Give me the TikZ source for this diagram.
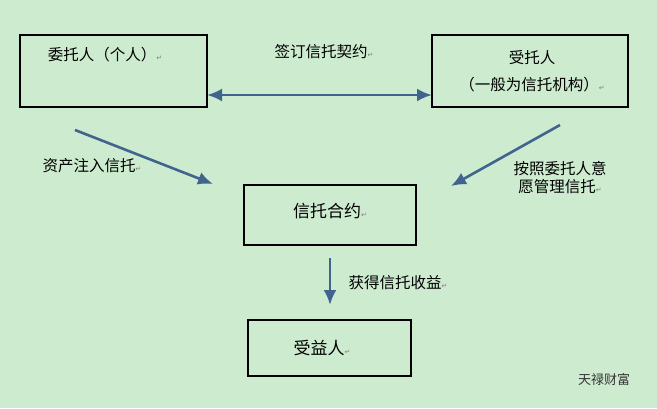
\documentclass[tikz,border=0pt]{standalone}
\usepackage{fontspec}
\usetikzlibrary{arrows.meta}
\setmainfont{Noto Sans CJK SC}
\newfontfamily\symfont{DejaVu Sans}
\newcommand{\ret}{{\symfont\scriptsize\color{gray}↵}}
\definecolor{bgreen}{HTML}{CDEBCF}
\definecolor{arrowblue}{HTML}{41648F}
\tikzset{box/.style={draw=black,line width=1.6pt,fill=bgreen},
  tip/.tip={Latex[length=15pt,width=13pt]},
  link/.style={draw=arrowblue,line width=2.6pt,-tip},
  lbl/.style={font=\fontsize{15.5}{18}\selectfont,align=center}}
\begin{document}
\begin{tikzpicture}[x=1pt,y=-1pt]
\fill[bgreen] (0,0) rectangle (657,408);
\useasboundingbox (0,0) rectangle (657,408);
\node[box,minimum width=187pt,minimum height=72pt] (client) at (113.5,71) {};
\node[box,minimum width=196pt,minimum height=72pt] (trustee) at (530,71) {};
\node[box,minimum width=172pt,minimum height=60pt] (contract) at (330,215) {};
\node[box,minimum width=163pt,minimum height=56pt] (benef) at (329.5,348) {};
\node[lbl] (tclient) at (105,55) {委托人（个人）\ret};
\node[lbl] (ttrustee) at (532,71) {受托人\\[9pt]（一般为信托机构）\ret};
\node[lbl,font=\fontsize{17}{18}\selectfont] (tcontract) at (330,211) {信托合约\ret};
\node[lbl,font=\fontsize{17}{18}\selectfont] (tbenef) at (322,348) {受益人\ret};
\coordinate (c1) at (207,95);
\coordinate (c2) at (432,95);
\draw[link,tip-tip] (c1) -- (c2);
\node[lbl] (sign) at (324,52) {签订信托契约\ret};
\coordinate (a1) at (75,130);
\coordinate (a2) at (213,184);
\draw[link] (a1) -- (a2);
\node[lbl] (asset) at (92,166) {资产注入信托\ret};
\coordinate (b1) at (560,125);
\coordinate (b2) at (451,186);
\draw[link] (b1) -- (b2);
\node[lbl] (manage) at (560,178) {按照委托人意\\愿管理信托\ret};
\coordinate (d1) at (330,258);
\coordinate (d2) at (330,305);
\draw[link] (d1) -- (d2);
\node[lbl] (gain) at (398,283) {获得信托收益\ret};
\node[font=\fontsize{13}{15}\selectfont,text=black!80] (mark) at (604,380) {天禄财富};
\end{tikzpicture}
\end{document}
